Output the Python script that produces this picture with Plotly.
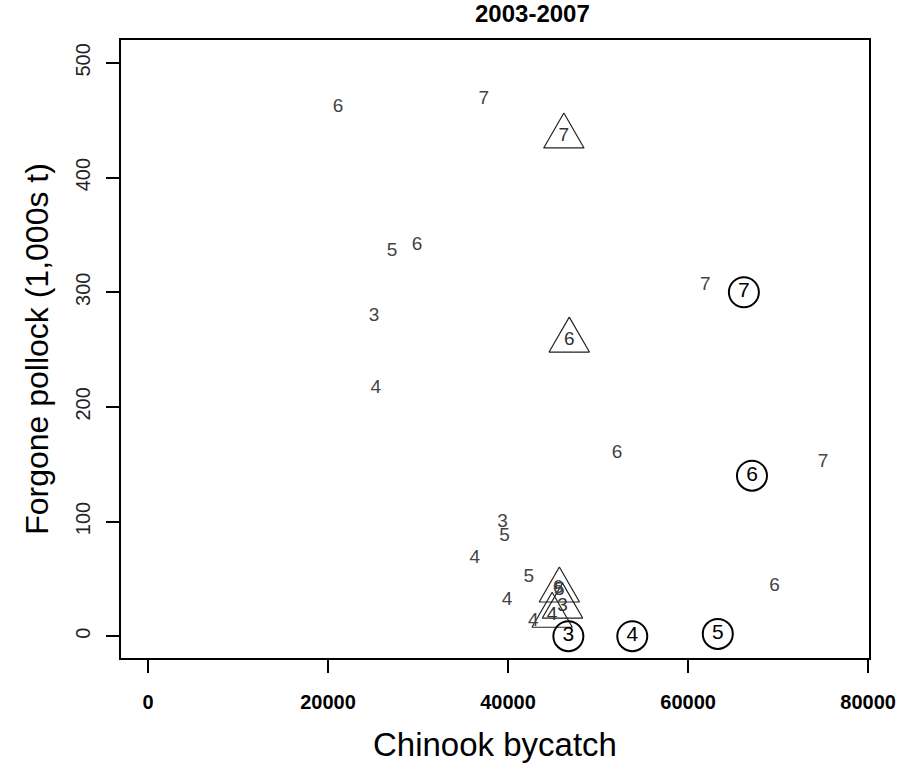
import plotly.graph_objects as go
import math

# ---- data ----
plain_x = [21100, 37300, 27100, 29900, 25100, 25300, 61900, 52100, 75000, 69600,
           39400, 39600, 36300, 42300, 39900, 42800, 45550]
plain_y = [461, 468, 336, 341, 279, 216, 306, 160, 152, 44,
           99, 87, 68, 51, 31, 13, 42]
plain_lab = ["6", "7", "5", "6", "3", "4", "7", "6", "7", "6",
             "3", "5", "4", "5", "4", "4", "6"]

tri_x = [46200, 46800, 45700, 46050, 44900]
tri_y = [436, 258, 40, 26, 18]
tri_lab = ["7", "6", "5", "3", "4"]

circ_x = [46700, 53800, 63300, 67100, 66200]
circ_y = [0, 0, 2, 140, 300]
circ_lab = ["3", "4", "5", "6", "7"]

x_ticks = [0, 20000, 40000, 60000, 80000]
y_ticks = [0, 100, 200, 300, 400, 500]

# ---- layout geometry ----
W, H = 900, 768
ML, MR, MT, MB = 121, 31, 40, 110
XR = [-3000, 80100]
YR = [-19, 520]
px_x = (W - ML - MR) / (XR[1] - XR[0])
px_y = (H - MT - MB) / (YR[1] - YR[0])

FONT = "Liberation Sans, Arial, sans-serif"

fig = go.Figure()

# triangles (equilateral, R pch=2 style) built around data centres
R_TRI = 23.3
tx, ty = [], []
for cx, cy in zip(tri_x, tri_y):
    dx = R_TRI * math.sqrt(3) / 2 / px_x
    up = R_TRI / px_y
    dn = R_TRI / 2 / px_y
    tx += [cx, cx + dx, cx - dx, cx, None]
    ty += [cy + up, cy - dn, cy - dn, cy + up, None]
fig.add_trace(go.Scatter(x=tx, y=ty, mode="lines",
                         line=dict(color="#222222", width=1.2),
                         hoverinfo="skip", showlegend=False))
fig.add_trace(go.Scatter(x=tri_x, y=tri_y, mode="text", text=tri_lab,
                         textfont=dict(family=FONT, size=19, color="#333333"),
                         showlegend=False))

# circles
fig.add_trace(go.Scatter(x=circ_x, y=circ_y, mode="markers+text", text=circ_lab,
                         marker=dict(symbol="circle-open", size=30,
                                     line=dict(color="black", width=2), color="black"),
                         textposition="middle center",
                         textfont=dict(family=FONT, size=21, color="black"),
                         showlegend=False))

# plain labels
fig.add_trace(go.Scatter(x=plain_x, y=plain_y, mode="text", text=plain_lab,
                         textfont=dict(family=FONT, size=19, color="#444444"),
                         showlegend=False))

fig.update_layout(
    width=W, height=H,
    margin=dict(l=ML, r=MR, t=MT, b=MB, autoexpand=False),
    paper_bgcolor="white", plot_bgcolor="white",
    font=dict(family=FONT, color="black"),
    title=dict(text="<b>2003-2007</b>", x=(ML + (W - ML - MR) / 2) / W, xanchor="center",
               xref="paper", yref="container",
               y=1 - 14 / H, yanchor="middle", font=dict(size=24, color="black")),
    showlegend=False,
)
fig.update_xaxes(range=XR, tickvals=x_ticks, ticktext=["<b>%d</b>" % v for v in x_ticks],
                 automargin=False,
                 showgrid=False, zeroline=False, showline=True, mirror=True,
                 linecolor="black", linewidth=1.5,
                 ticks="outside", ticklen=13, tickwidth=1.5, tickcolor="black",
                 ticklabelstandoff=12,
                 tickfont=dict(size=20, color="black"),
                 title=dict(text="Chinook bycatch", font=dict(size=33, color="black"),
                            standoff=21))
fig.update_yaxes(range=YR, tickvals=y_ticks, ticktext=[str(v) for v in y_ticks],
                 automargin=False,
                 showgrid=False, zeroline=False, showline=True, mirror=True,
                 linecolor="black", linewidth=1.5,
                 ticks="outside", ticklen=13, tickwidth=1.5, tickcolor="black",
                 tickangle=-90, ticklabelstandoff=8,
                 tickfont=dict(size=20, color="#222222"),
                 title=dict(text="Forgone pollock (1,000s t)", font=dict(size=32, color="black"),
                            standoff=14))

fig.write_html("out.html", config={"displayModeBar": False},
               post_script="document.body.style.margin='0px';")
